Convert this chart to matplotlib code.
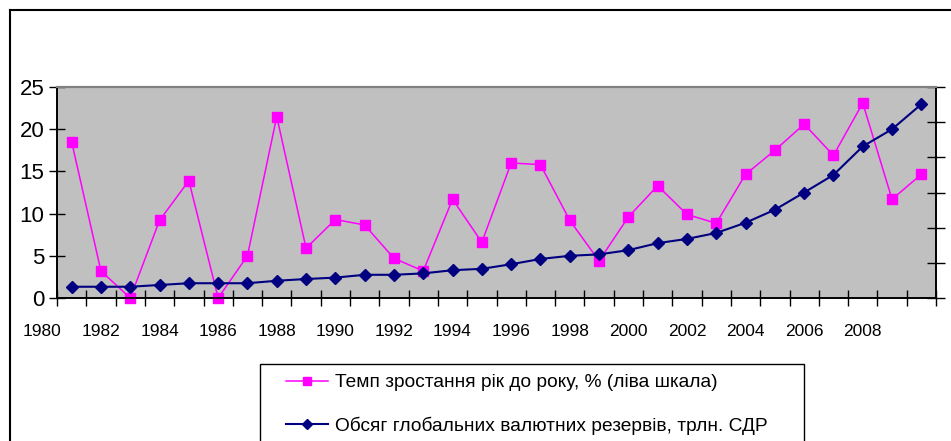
import matplotlib
matplotlib.use("Agg")
import matplotlib.pyplot as plt
from matplotlib.lines import Line2D
from matplotlib.patches import Rectangle

plt.rcParams['font.family'] = ['Liberation Sans', 'DejaVu Sans']

# Дані
years = list(range(1981, 2011))
temp_growth = [18.5, 3.2, 0.0, 9.2, 13.9, 0.0, 5.0, 21.5, 5.9, 9.3,
               8.65, 4.7, 3.2, 11.7, 6.6, 16.0, 15.8, 9.2, 4.4, 9.6,
               13.3, 9.9, 8.85, 14.65, 17.5, 20.6, 16.9, 23.1, 11.7, 14.65]
reserves = [0.32, 0.32, 0.32, 0.37, 0.42, 0.42, 0.42, 0.49, 0.54, 0.58,
            0.66, 0.66, 0.70, 0.79, 0.83, 0.96, 1.11, 1.20, 1.24, 1.36,
            1.56, 1.68, 1.85, 2.14, 2.51, 3.00, 3.50, 4.31, 4.80, 5.51]
year_labels = list(range(1980, 2009, 2))
label_growth = "Темп зростання рік до року, % (ліва шкала)"
label_reserves = "Обсяг глобальних валютних резервів, трлн. СДР"

W, H = 951, 441
fig = plt.figure(figsize=(W / 100, H / 100), dpi=100)
ax = fig.add_axes([57 / W, 1 - 298 / H, (936 - 57) / W, (298 - 87) / H])
ax.set_facecolor('#c0c0c0')

ax.plot(years, temp_growth, color='#ff00ff', lw=1.1, marker='s', ms=7.5,
        mec='#ff00ff', mfc='#ff00ff', zorder=3, clip_on=False)
ax.set_ylim(0, 25)
ax.set_yticks(range(0, 26, 5))
ax.set_xlim(1980.5, 2010.5)
ax.set_xticks([y + 0.5 for y in range(1980, 2011)])
ax.set_xticklabels([])
ax.tick_params(axis='y', direction='inout', length=12, width=1, labelsize=16, pad=3)
ax.tick_params(axis='x', direction='inout', length=11, width=1)

# підписи років (зміщені, як в оригіналі)
for y in year_labels:
    ax.text(y, -0.16, str(y), transform=ax.get_xaxis_transform(),
            ha='center', va='center', fontsize=12.5, clip_on=False)

ax2 = ax.twinx()
ax2.plot(years, reserves, color='#000080', lw=1.5, marker='D', ms=6.5,
         zorder=3, clip_on=False)
ax2.set_ylim(0, 6)
ax2.set_yticks(range(0, 7))
ax2.set_yticklabels([])
ax2.tick_params(axis='y', direction='inout', length=13, width=1)

for a in (ax, ax2):
    a.spines['top'].set_color('#808080')
    a.spines['top'].set_linewidth(1.5)
    for s in ('left', 'right', 'bottom'):
        a.spines[s].set_linewidth(1.2)

# рамка діаграми
fig.add_artist(Line2D([10 / W, 10 / W], [1 - 10 / H, 0], color='black', lw=1.5))
fig.add_artist(Line2D([10 / W, 1], [1 - 10 / H, 1 - 10 / H], color='black', lw=1.5))

# легенда
fig.add_artist(Rectangle((260 / W, -0.1), (804 - 260) / W, 1 - 364 / H + 0.1,
                         transform=fig.transFigure, fill=False, ec='black', lw=1))
handles = [Line2D([], [], color='#ff00ff', lw=1.1, marker='s', ms=6),
           Line2D([], [], color='#000080', lw=1.5, marker='D', ms=5)]
fig.legend(handles, [label_growth, label_reserves], loc='upper left',
           bbox_to_anchor=(286 / W, 1 - 374 / H), frameon=False, borderpad=0,
           borderaxespad=0, fontsize=13.8, handlelength=2.2, handletextpad=0.35,
           labelspacing=1.3)

fig.savefig('out.png', dpi=100)
